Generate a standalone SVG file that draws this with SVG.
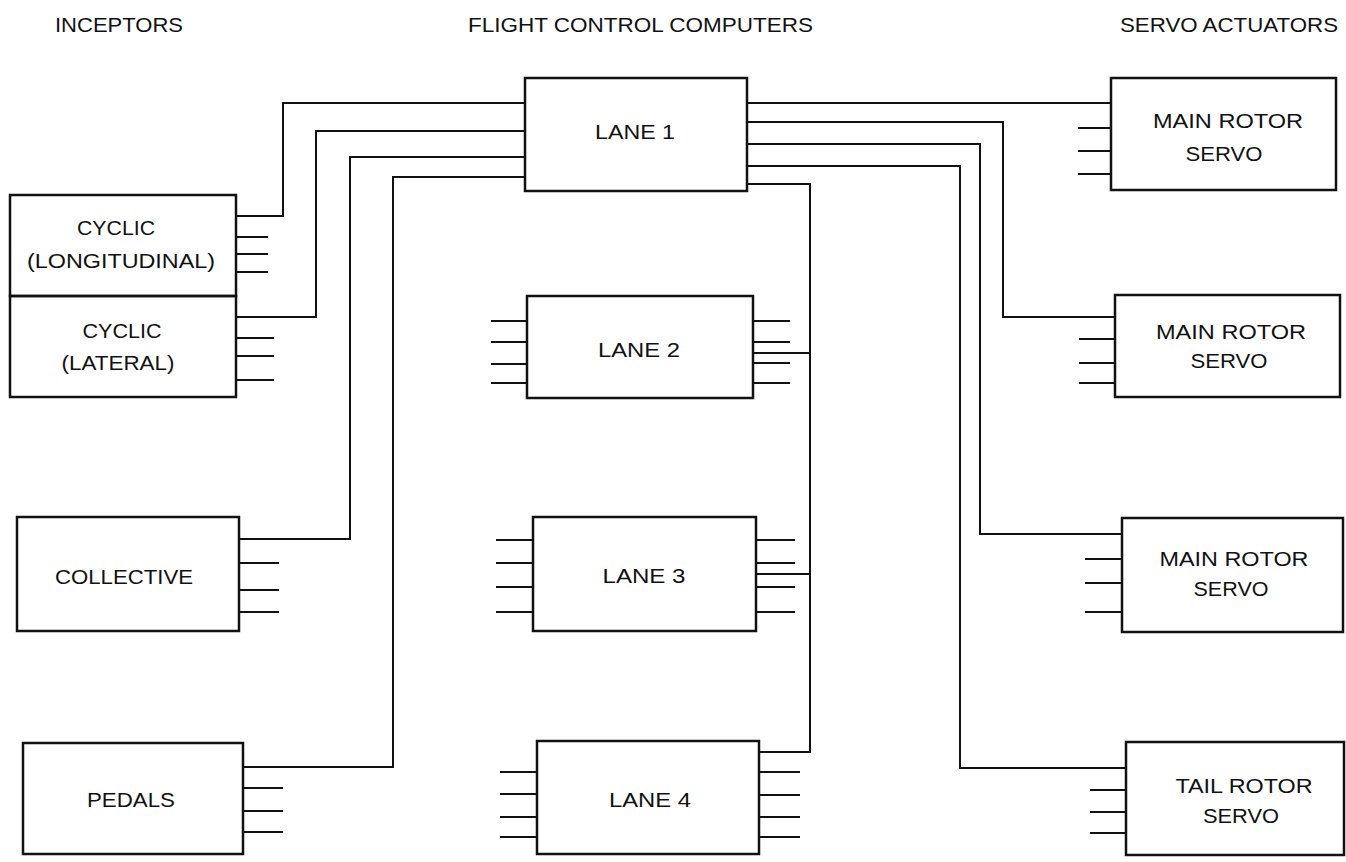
<svg xmlns="http://www.w3.org/2000/svg" width="1346" height="862" viewBox="0 0 1346 862">
  <style>
    .box { fill: none; stroke: #111; stroke-width: 2.5; }
    .wire { fill: none; stroke: #111; stroke-width: 2; }
    .stub { fill: none; stroke: #111; stroke-width: 1.8; }
    .hdr { font-family: "Liberation Sans", Arial, sans-serif; font-size: 21px; fill: #111; }
    .lbl { font-family: "Liberation Sans", Arial, sans-serif; font-size: 20px; fill: #111; text-anchor: middle; }
  </style>
  <rect width="1346" height="862" fill="#fff"/>

  <g id="headers">
    <text class="hdr" x="55" y="32" textLength="128" lengthAdjust="spacingAndGlyphs">INCEPTORS</text>
    <text class="hdr" x="468" y="32" textLength="345" lengthAdjust="spacingAndGlyphs">FLIGHT CONTROL COMPUTERS</text>
    <text class="hdr" x="1120" y="32" textLength="218" lengthAdjust="spacingAndGlyphs">SERVO ACTUATORS</text>
  </g>

  <g id="connectors">
    <path class="wire" d="M236,216 H283 V103 H525"/>
    <path class="wire" d="M236,317 H316 V131 H525"/>
    <path class="wire" d="M239,539 H350 V157 H525"/>
    <path class="wire" d="M243,767 H393 V177 H525"/>
    <path class="wire" d="M747,103 H1111"/>
    <path class="wire" d="M747,122 H1003 V317 H1115"/>
    <path class="wire" d="M747,144 H980 V534 H1122"/>
    <path class="wire" d="M747,166 H960 V768 H1126"/>
    <path class="wire" d="M747,184 H810 V752 H759"/>
    <path class="wire" d="M753,353 H810"/>
    <path class="wire" d="M756,574 H810"/>
  </g>

  <g id="cyclic-longitudinal">
    <rect class="box" x="10" y="195" width="226" height="101"/>
    <text class="lbl" x="116" y="235" textLength="78" lengthAdjust="spacingAndGlyphs">CYCLIC</text>
    <text class="lbl" x="121" y="268" textLength="188" lengthAdjust="spacingAndGlyphs">(LONGITUDINAL)</text>
    <path class="stub" d="M236,237 H268 M236,254 H268 M236,272 H268"/>
  </g>

  <g id="cyclic-lateral">
    <rect class="box" x="10" y="296" width="226" height="101"/>
    <text class="lbl" x="122" y="338" textLength="79" lengthAdjust="spacingAndGlyphs">CYCLIC</text>
    <text class="lbl" x="118" y="370" textLength="113" lengthAdjust="spacingAndGlyphs">(LATERAL)</text>
    <path class="stub" d="M236,338 H274 M236,356 H274 M236,380 H274"/>
  </g>

  <g id="collective">
    <rect class="box" x="17" y="517" width="222" height="114"/>
    <text class="lbl" x="124" y="584" textLength="138" lengthAdjust="spacingAndGlyphs">COLLECTIVE</text>
    <path class="stub" d="M239,563 H279 M239,590 H279 M239,612 H279"/>
  </g>

  <g id="pedals">
    <rect class="box" x="23" y="743" width="220" height="111"/>
    <text class="lbl" x="131" y="807" textLength="88" lengthAdjust="spacingAndGlyphs">PEDALS</text>
    <path class="stub" d="M243,788 H283 M243,811 H283 M243,832 H283"/>
  </g>

  <g id="lane1">
    <rect class="box" x="525" y="78" width="222" height="113"/>
    <text class="lbl" x="635" y="139" textLength="80" lengthAdjust="spacingAndGlyphs">LANE 1</text>
  </g>

  <g id="lane2">
    <rect class="box" x="527" y="296" width="226" height="102"/>
    <text class="lbl" x="639" y="357" textLength="82" lengthAdjust="spacingAndGlyphs">LANE 2</text>
    <path class="stub" d="M491,321 H527 M491,342 H527 M491,364 H527 M491,383 H527"/>
    <path class="stub" d="M753,321 H790 M753,342 H790 M753,363 H790 M753,383 H790"/>
  </g>

  <g id="lane3">
    <rect class="box" x="533" y="517" width="223" height="114"/>
    <text class="lbl" x="644" y="583" textLength="83" lengthAdjust="spacingAndGlyphs">LANE 3</text>
    <path class="stub" d="M496,540 H533 M496,563 H533 M496,587 H533 M496,612 H533"/>
    <path class="stub" d="M756,540 H795 M756,563 H795 M756,587 H795 M756,612 H795"/>
  </g>

  <g id="lane4">
    <rect class="box" x="537" y="741" width="222" height="113"/>
    <text class="lbl" x="650" y="807" textLength="82" lengthAdjust="spacingAndGlyphs">LANE 4</text>
    <path class="stub" d="M500,772 H537 M500,794 H537 M500,817 H537 M500,837 H537"/>
    <path class="stub" d="M759,772 H800 M759,795 H800 M759,817 H800 M759,837 H800"/>
  </g>

  <g id="servo1">
    <rect class="box" x="1111" y="78" width="225" height="112"/>
    <text class="lbl" x="1228" y="128" textLength="150" lengthAdjust="spacingAndGlyphs">MAIN ROTOR</text>
    <text class="lbl" x="1224" y="161" textLength="77" lengthAdjust="spacingAndGlyphs">SERVO</text>
    <path class="stub" d="M1078,128 H1111 M1078,151 H1111 M1078,174 H1111"/>
  </g>

  <g id="servo2">
    <rect class="box" x="1115" y="295" width="225" height="102"/>
    <text class="lbl" x="1231" y="339" textLength="150" lengthAdjust="spacingAndGlyphs">MAIN ROTOR</text>
    <text class="lbl" x="1229" y="368" textLength="77" lengthAdjust="spacingAndGlyphs">SERVO</text>
    <path class="stub" d="M1079,339 H1115 M1079,363 H1115 M1079,383 H1115"/>
  </g>

  <g id="servo3">
    <rect class="box" x="1122" y="518" width="221" height="114"/>
    <text class="lbl" x="1234" y="566" textLength="149" lengthAdjust="spacingAndGlyphs">MAIN ROTOR</text>
    <text class="lbl" x="1231" y="596" textLength="75" lengthAdjust="spacingAndGlyphs">SERVO</text>
    <path class="stub" d="M1085,559 H1122 M1085,583 H1122 M1085,612 H1122"/>
  </g>

  <g id="tail-servo">
    <rect class="box" x="1126" y="742" width="218" height="113"/>
    <text class="lbl" x="1244" y="793" textLength="137" lengthAdjust="spacingAndGlyphs">TAIL ROTOR</text>
    <text class="lbl" x="1241" y="823" textLength="76" lengthAdjust="spacingAndGlyphs">SERVO</text>
    <path class="stub" d="M1090,790 H1126 M1090,812 H1126 M1090,833 H1126"/>
  </g>
</svg>
